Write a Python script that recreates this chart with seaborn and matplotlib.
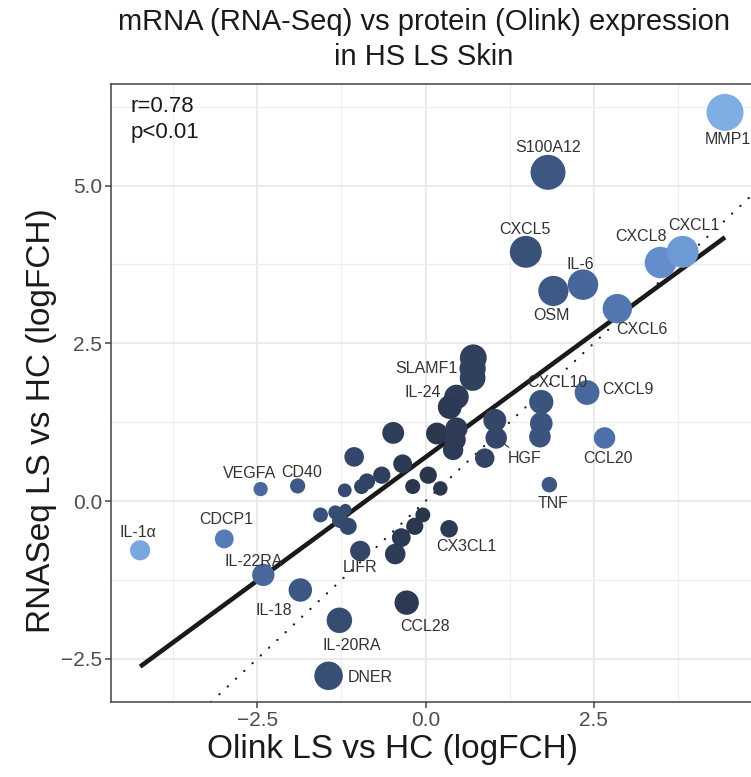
import numpy as np
import pandas as pd
import matplotlib
matplotlib.use("Agg")
import matplotlib.pyplot as plt
import seaborn as sns
from matplotlib.colors import LinearSegmentedColormap

# ---------------- data ----------------
genes = ["MMP1", "S100A12", "CXCL5", "OSM", "IL-6", "CXCL6", "CXCL8", "CXCL1",
         "SLAMF1", "IL-24", "CXCL10", "CXCL9", "HGF", "CCL20", "TNF", "VEGFA",
         "CD40", "CDCP1", "IL-1α", "IL-22RA", "IL-18", "LIFR", "CX3CL1",
         "IL-20RA", "CCL28", "DNER",
         "", "", "", "", "", "", "", "", "", "", "", "", "", "", "", "", "",
         "", "", "", "", "", "", "", "", "", "", "", "", ""]
olink = [4.45, 1.82, 1.49, 1.90, 2.34, 2.85, 3.49, 3.82,
         0.70, 0.46, 1.72, 2.40, 1.05, 2.66, 1.84, -2.45,
         -1.90, -2.99, -4.24, -2.41, -1.86, -0.97, 0.35,
         -1.28, -0.28, -1.44,
         0.71, 0.70, 0.36, 0.17, 0.46, 0.44, 0.41, -0.48, -1.06, -0.34, -0.65,
         -0.87, -0.95, -1.20, 0.04, -0.19, 0.22, -1.56, -1.34, -1.19, -1.27,
         -1.15, -0.04, -0.16, -0.36, -0.45, 0.88, 1.03, 1.72, 1.70]
rnaseq = [6.16, 5.21, 3.95, 3.33, 3.43, 3.05, 3.78, 3.95,
          2.10, 1.65, 1.57, 1.72, 1.00, 1.00, 0.26, 0.19,
          0.24, -0.60, -0.78, -1.17, -1.41, -0.79, -0.44,
          -1.89, -1.61, -2.77,
          2.27, 1.95, 1.49, 1.07, 1.15, 0.97, 0.81, 1.08, 0.70, 0.59, 0.41,
          0.31, 0.23, 0.17, 0.41, 0.23, 0.20, -0.22, -0.18, -0.14, -0.30,
          -0.40, -0.22, -0.40, -0.58, -0.84, 0.68, 1.28, 1.23, 1.02]
stats_text = ["r=0.78", "p<0.01"]
title_lines = ["mRNA (RNA-Seq) vs protein (Olink) expression", "in HS LS Skin"]
x_title = "Olink LS vs HC (logFCH)"
y_title = "RNASeq LS vs HC (logFCH)"
x_ticks = [-2.5, 0.0, 2.5]
y_ticks = [-2.5, 0.0, 2.5, 5.0]

# label offsets in pixels (dx right, dy down) -- layout only
label_offsets = {
    "MMP1": (3, 27), "S100A12": (0, -25), "CXCL5": (-1, -22), "IL-6": (-3, -20),
    "OSM": (-2, 25), "CXCL8": (-19, -26), "CXCL1": (11, -26), "CXCL6": (25, 21),
    "SLAMF1": (-46, 0), "IL-24": (-34, -4), "CXCL10": (16, -19), "CXCL9": (41, -3),
    "HGF": (28, 21), "CCL20": (3, 21), "TNF": (4, 19), "VEGFA": (-11, -16),
    "CD40": (4, -13), "CDCP1": (2, -19), "IL-1α": (-2, -18), "IL-22RA": (-10, -13),
    "IL-18": (-27, 20), "LIFR": (0, 17), "CX3CL1": (17, 18), "IL-20RA": (12, 25),
    "CCL28": (18, 24), "DNER": (42, 2),
}

# ---------------- style ----------------
sns.set_style("white")
plt.rcParams["font.family"] = ["Liberation Sans", "DejaVu Sans"]

df = pd.DataFrame({"gene": genes, "olink": olink, "rnaseq": rnaseq})
df["abs_olink"] = df["olink"].abs()
df["abs_rna"] = df["rnaseq"].abs()

W, H = 751, 777
fig = plt.figure(figsize=(W / 100, H / 100), dpi=100)
ax = fig.add_axes([111 / W, 1 - 702 / H, (751 - 111) / W, (702 - 84) / H])

cmap = LinearSegmentedColormap.from_list(
    "navyblue", [(0.0, "#29344a"), (0.4, "#3c5580"), (0.6, "#4d70a8"),
                 (0.8, "#6690cf"), (1.0, "#7eaee4")])

# ggplot-like area scale: diameter linear in sqrt of normalised value
vmin, vmax = df["abs_rna"].min(), df["abs_rna"].max()
dmin, dmax = 12 / 1.389, 37 / 1.389
size_map = {v: (dmin + (dmax - dmin) * np.sqrt((v - vmin) / (vmax - vmin))) ** 2
            for v in df["abs_rna"].unique()}

sns.scatterplot(data=df, x="olink", y="rnaseq", hue="abs_olink", palette=cmap,
                hue_norm=(0, df["abs_olink"].max()), size="abs_rna",
                sizes=size_map, linewidth=0, legend=False, ax=ax, zorder=3)

sns.regplot(data=df, x="olink", y="rnaseq", scatter=False, ci=None, ax=ax,
            line_kws=dict(color="#1a1a1a", lw=3.3, solid_capstyle="butt", zorder=2))

ax.axline((0, 0), slope=1, color="#1a1a1a", lw=1.6, linestyle=(0, (0.1, 5)),
          dash_capstyle="round", zorder=2)

for _, r in df[df["gene"] != ""].iterrows():
    dx, dy = label_offsets[r["gene"]]
    kw = {}
    if r["gene"] == "HGF":
        kw["arrowprops"] = dict(arrowstyle="-", color="#444444", lw=0.9,
                                shrinkA=1, shrinkB=7)
    ax.annotate(r["gene"], (r["olink"], r["rnaseq"]), xytext=(dx, -dy),
                textcoords="offset pixels", ha="center", va="center",
                fontsize=11.5, color="#333333", zorder=4, **kw)

ax.text(0.03, 0.963, stats_text[0], transform=ax.transAxes, ha="left",
        va="center", fontsize=16, color="#1a1a1a")
ax.text(0.03, 0.921, stats_text[1], transform=ax.transAxes, ha="left",
        va="center", fontsize=16, color="#1a1a1a")

ax.set_xlim(-4.673, 4.836)
ax.set_ylim(-3.185, 6.61)
ax.set_xticks(x_ticks)
ax.set_yticks(y_ticks)
ax.set_xticks([-3.75, -1.25, 1.25, 3.75], minor=True)
ax.set_yticks([-1.25, 1.25, 3.75, 6.25], minor=True)
ax.set_xticklabels([f"{t:.1f}".replace("-", "\u2212") for t in x_ticks])
ax.set_yticklabels([f"{t:.1f}".replace("-", "\u2212") for t in y_ticks])
ax.tick_params(which="major", bottom=True, left=True, direction="out",
               length=4.5, width=1.1, color="#444444", labelsize=15,
               labelcolor="#4d4d4d", pad=2)
ax.tick_params(which="minor", bottom=False, left=False, length=0)
ax.grid(True, which="major", color="#e8e8e8", lw=1.3)
ax.grid(True, which="minor", color="#eeeeee", lw=0.9)
ax.set_axisbelow(True)
for s in ["top", "left", "bottom"]:
    ax.spines[s].set_color("#444444")
    ax.spines[s].set_linewidth(1.1)
ax.spines["right"].set_visible(False)

ax.set_xlabel(x_title, fontsize=24, color="#1a1a1a")
ax.set_ylabel(y_title, fontsize=24, color="#1a1a1a")
ax.xaxis.set_label_coords(0.44, -0.077)
ax.xaxis.label.set_va("center")
ax.yaxis.set_label_coords(-0.108, 0.456)
ax.yaxis.label.set_va("center")

fig.text(424 / W, 1 - 22 / H, title_lines[0], ha="center", va="center",
         fontsize=21, color="#1a1a1a")
fig.text(424 / W, 1 - 57 / H, title_lines[1], ha="center", va="center",
         fontsize=21, color="#1a1a1a")

fig.savefig("out.png", dpi=100, facecolor="white")
